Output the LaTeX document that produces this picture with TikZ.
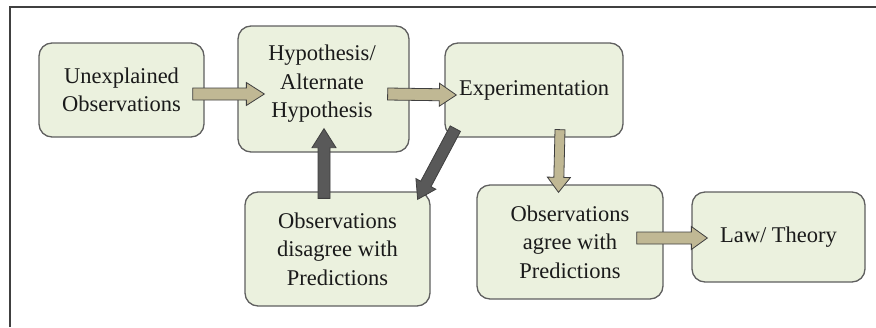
\documentclass[tikz,border=0pt]{standalone}
\usepackage{fontspec}
\setmainfont{Liberation Serif}
\usetikzlibrary{calc}
\definecolor{boxfill}{HTML}{EBF1DE}
\definecolor{boxline}{HTML}{5F5F5F}
\definecolor{tan}{HTML}{C0B894}
\definecolor{darkarrow}{HTML}{595959}
\definecolor{arrline}{HTML}{3F3F3F}
\definecolor{txt}{HTML}{1A1A1A}
\tikzset{
  stepbox/.style={draw=boxline, line width=1.3pt, fill=boxfill, rounded corners=13pt,
    align=center, inner sep=0pt, text=txt, font=\fontsize{22.5}{28.5}\selectfont},
  steptext/.style={align=center, inner sep=0pt, text=txt, font=\fontsize{22.5}{28.5}\selectfont},
  tanarrow/.style={fill=tan, draw=arrline, line width=0.8pt, line join=miter},
  darkarr/.style={fill=darkarrow, draw=arrline, line width=0.8pt, line join=miter},
  frame/.style={draw=black!75, line width=1.2pt}
}
% #1 start, #2 tip, #3 style, #4 half shaft, #5 half head, #6 head length
\newcommand{\blockarrow}[6]{%
  \coordinate (ba-q) at ($(#2)!#6!(#1)$);
  \path[#3] ($(#1)!#4!90:(#2)$) -- ($(ba-q)!#4!90:(#2)$) -- ($(ba-q)!#5!90:(#2)$)
    -- (#2) -- ($(ba-q)!#5!-90:(#2)$) -- ($(ba-q)!#4!-90:(#2)$) -- ($(#1)!#4!-90:(#2)$) -- cycle;
}
\begin{document}
\begin{tikzpicture}[x=1pt, y=-1pt]
\useasboundingbox (0,0) rectangle (876,327);
\draw[frame] (10,327) -- (10,7) -- (876,7);

\node[stepbox, minimum width=165pt, minimum height=94pt] (unexp) at (121.5,90) {Unexplained\\Observations};
\node[stepbox, minimum width=171pt, minimum height=126pt] (hyp) at (323.5,89) {};
\node[steptext] (hyptext) at (322,84) {Hypothesis/\\Alternate\\Hypothesis};
\node[stepbox, minimum width=185pt, minimum height=114pt] (disagree) at (337.5,249) {Observations\\disagree with\\Predictions};
\node[stepbox, minimum width=178pt, minimum height=94pt] (exp) at (534,90) {Experimentation};
\node[stepbox, minimum width=186pt, minimum height=114pt] (agree) at (570,242) {Observations\\agree with\\Predictions};
\node[stepbox, minimum width=173pt, minimum height=90pt] (law) at (778.5,237) {Law/ Theory};

% arrow end points
\coordinate (a1s) at ($(unexp.east)+(-12,4)$);
\coordinate (a1t) at ($(hyp.west)+(27,5)$);
\coordinate (a2s) at ($(hyp.east)+(-22,5)$);
\coordinate (a2t) at ($(exp.west)+(12,5)$);
\coordinate (a3s) at ($(disagree.north)+(-13.5,7)$);
\coordinate (a3t) at ($(hyp.south)+(0.5,-24)$);
\coordinate (a4s) at ($(exp.south west)+(11,-9)$);
\coordinate (a4t) at ($(disagree.north east)+(-13,8)$);
\coordinate (a5s) at ($(exp.south)+(26,-8)$);
\coordinate (a5t) at ($(agree.north)+(-11.5,8)$);
\coordinate (a6s) at ($(agree.east)+(-27,-4)$);
\coordinate (a6t) at ($(law.west)+(16,1)$);

\blockarrow{a1s}{a1t}{tanarrow}{6pt}{11.5pt}{18pt}
\blockarrow{a2s}{a2t}{tanarrow}{6pt}{11.5pt}{17pt}
\blockarrow{a3s}{a3t}{darkarr}{6pt}{12pt}{19pt}
\blockarrow{a4s}{a4t}{darkarr}{5.8pt}{11.3pt}{17.5pt}
\blockarrow{a5s}{a5t}{tanarrow}{5pt}{11.5pt}{15pt}
\blockarrow{a6s}{a6t}{tanarrow}{6pt}{11.5pt}{16pt}
\end{tikzpicture}
\end{document}
